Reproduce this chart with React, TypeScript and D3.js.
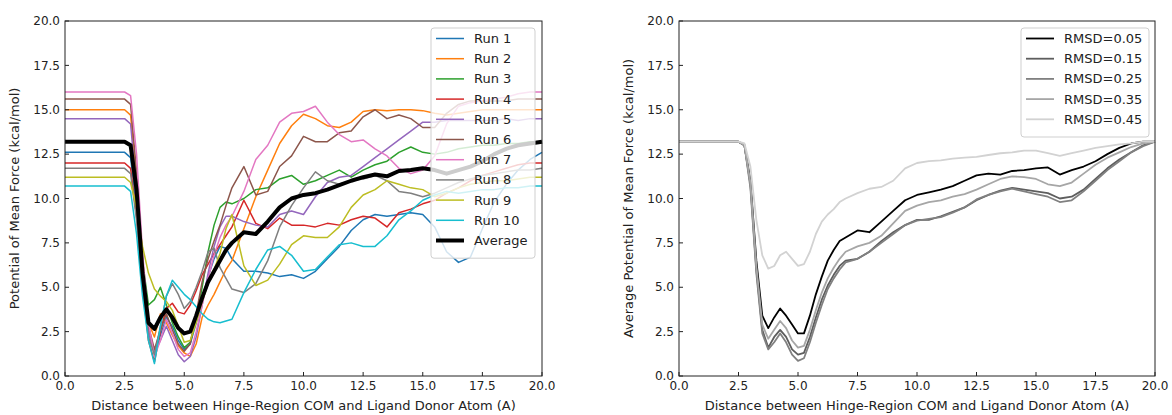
import React from 'react';
import * as d3 from 'd3';

// shared x grid (distance, A)
const xs = [0, 2.5, 2.75, 3, 3.25, 3.5, 3.75, 4, 4.25, 4.5, 4.75, 5, 5.25, 5.5, 5.75, 6, 6.25, 6.5, 6.75,
  7, 7.5, 8, 8.5, 9, 9.5, 10, 10.5, 11, 11.5, 12, 12.5, 13, 13.5, 14, 14.5, 15, 15.5, 16, 16.5, 17, 17.5,
  18, 18.5, 19, 19.5, 20];

// left panel: individual runs
const run1 = [12.6, 12.6, 12.3, 9.5, 5.5, 2.5, 1.3, 2.3, 3.3, 2.8, 2.0, 1.5, 1.8, 3.0, 4.3, 5.6, 6.6, 7.3, 7.2, 6.6,
  5.9, 5.9, 5.8, 5.6, 5.7, 5.5, 5.9, 6.6, 7.3, 8.2, 8.8, 9.1, 9.0, 9.1, 9.2, 9.1, 8.4, 7.0, 6.4, 6.7, 8.3, 9.8, 10.8, 11.6, 12.2, 12.6];
const run2 = [15.0, 15.0, 14.7, 11.0, 6.5, 3.0, 2.2, 3.5, 3.0, 2.3, 1.7, 1.3, 1.1, 1.8, 3.3, 4.0, 4.6, 5.3, 6.0, 6.5,
  8.3, 10.1, 11.6, 13.1, 14.1, 14.75, 14.5, 14.1, 14.0, 14.3, 14.9, 15.0, 14.95, 15.0, 15.0, 14.95, 14.8, 14.7, 14.8, 14.9, 15.0, 15.0, 15.0, 15.0, 15.0, 15.0];
const run3 = [13.2, 13.2, 12.9, 10.0, 6.5, 4.0, 4.3, 5.0, 4.0, 3.0, 2.2, 1.6, 1.9, 3.2, 5.0, 7.0, 8.5, 9.5, 9.8, 9.7,
  10.0, 10.5, 10.6, 11.1, 11.3, 10.8, 11.0, 11.3, 11.6, 11.2, 11.6, 11.9, 12.1, 12.6, 12.9, 12.6, 12.5, 12.6, 12.8, 12.9, 13.0, 13.0, 13.1, 13.1, 13.2, 13.2];
const run4 = [12.0, 12.0, 11.7, 9.0, 5.0, 2.0, 0.8, 2.5, 3.8, 4.1, 3.6, 3.5, 4.0, 4.8, 5.7, 6.3, 6.9, 7.4, 7.9, 8.4,
  9.9, 8.6, 8.3, 8.9, 8.5, 8.5, 8.4, 8.6, 8.5, 8.8, 9.0, 8.9, 8.4, 9.2, 9.4, 9.7, 9.9, 10.3, 10.6, 11.0, 11.3, 11.5, 11.7, 11.9, 12.0, 12.0];
const run5 = [14.5, 14.5, 14.2, 10.5, 6.0, 2.5, 1.3, 2.0, 2.8, 2.0, 1.2, 0.8, 1.1, 2.2, 4.0, 5.8, 7.3, 8.4, 9.0, 9.0,
  8.7, 8.5, 8.4, 9.1, 9.3, 9.1, 10.1, 10.9, 11.2, 11.3, 11.8, 12.3, 12.8, 13.3, 13.8, 14.3, 14.3, 14.4, 14.4, 14.4, 14.4, 14.4, 14.5, 14.4, 14.5, 14.5];
const run6 = [15.6, 15.6, 15.3, 11.5, 6.5, 2.8, 1.5, 2.6, 3.5, 2.6, 1.8, 1.4, 1.8, 3.5, 5.3, 6.6, 7.6, 8.5, 9.6, 10.6,
  11.8, 10.2, 10.4, 11.8, 12.4, 13.5, 13.2, 13.2, 13.7, 13.8, 14.6, 15.0, 14.5, 14.7, 14.5, 14.0, 14.0, 14.8, 15.3, 15.5, 15.5, 15.5, 15.5, 15.6, 15.6, 15.6];
const run7 = [16.0, 16.0, 15.8, 12.5, 7.0, 3.0, 1.1, 2.0, 3.2, 2.4, 1.5, 1.1, 1.3, 2.5, 4.0, 5.5, 6.8, 7.8, 8.5, 9.0,
  10.4, 12.2, 13.0, 14.3, 14.8, 14.9, 15.2, 14.3, 13.6, 13.2, 13.3, 12.8, 12.4, 11.7, 11.4, 11.6, 12.4, 14.2, 15.2, 15.4, 15.5, 15.6, 15.7, 15.9, 16.0, 16.0];
const run8 = [11.7, 11.7, 11.4, 8.8, 5.0, 2.2, 1.2, 2.8, 4.5, 5.2, 4.6, 3.8, 4.2, 5.0, 5.9, 7.0, 7.2, 6.1, 5.5, 4.9,
  4.7, 5.2, 6.5, 8.4, 9.6, 10.6, 11.5, 11.0, 10.8, 11.0, 11.1, 11.3, 11.0, 10.4, 10.3, 10.1, 10.3, 10.6, 10.9, 11.1, 11.3, 11.4, 11.5, 11.6, 11.6, 11.7];
const run9 = [11.2, 11.2, 10.9, 9.5, 7.3, 5.8, 4.9, 4.5, 4.2, 3.7, 2.8, 1.9, 2.0, 3.0, 4.2, 5.2, 6.0, 6.9, 8.3, 9.1,
  6.2, 5.1, 5.4, 6.3, 7.4, 7.9, 7.8, 7.8, 8.4, 9.5, 10.2, 10.5, 11.0, 10.8, 10.6, 10.5, 10.1, 10.3, 10.6, 10.8, 10.9, 11.0, 11.0, 11.1, 11.2, 11.2];
const run10 = [10.7, 10.7, 10.4, 8.0, 4.5, 2.0, 0.7, 2.8, 4.5, 5.4, 5.0, 4.6, 4.3, 3.9, 3.5, 3.2, 3.05, 3.0, 3.1, 3.2,
  4.7, 6.0, 7.1, 7.3, 6.8, 5.9, 6.0, 6.7, 7.4, 7.5, 7.3, 7.3, 7.9, 8.8, 9.3, 9.9, 10.2, 10.4, 10.3, 10.4, 10.5, 10.5, 10.6, 10.6, 10.7, 10.7];
const average = [13.2, 13.2, 13.0, 10.5, 5.8, 3.0, 2.65, 3.3, 3.75, 3.3, 2.7, 2.4, 2.5, 3.4, 4.4, 5.3, 5.9, 6.5, 7.1, 7.5,
  8.1, 8.0, 8.7, 9.5, 10.0, 10.2, 10.3, 10.5, 10.75, 11.0, 11.2, 11.35, 11.25, 11.55, 11.6, 11.7, 11.6, 11.4, 11.6, 11.8, 12.1, 12.5, 12.8, 13.0, 13.1, 13.2];

const runNames = ['Run 1', 'Run 2', 'Run 3', 'Run 4', 'Run 5', 'Run 6', 'Run 7', 'Run 8', 'Run 9', 'Run 10'];
const runColors = ['#1f77b4', '#ff7f0e', '#2ca02c', '#d62728', '#9467bd', '#8c564b', '#e377c2', '#7f7f7f', '#bcbd22', '#17becf'];

// right panel: averages per RMSD cutoff
const rmsd05 = [13.2, 13.2, 13.0, 11.0, 6.5, 3.4, 2.7, 3.3, 3.8, 3.4, 2.9, 2.4, 2.4, 3.4, 4.6, 5.6, 6.5, 7.1, 7.6, 7.8,
  8.2, 8.1, 8.7, 9.3, 9.9, 10.2, 10.35, 10.5, 10.7, 11.0, 11.3, 11.4, 11.35, 11.55, 11.6, 11.7, 11.75, 11.35, 11.6, 11.8, 12.1, 12.5, 12.85, 13.1, 13.2, 13.2];
const rmsd15 = [13.2, 13.2, 13.0, 10.8, 6.0, 2.6, 1.6, 2.2, 2.6, 2.2, 1.5, 1.2, 1.3, 2.2, 3.3, 4.3, 5.1, 5.7, 6.2, 6.5,
  6.6, 7.0, 7.6, 8.1, 8.5, 8.8, 8.8, 9.0, 9.25, 9.5, 9.9, 10.2, 10.45, 10.6, 10.5, 10.4, 10.3, 10.0, 10.1, 10.5, 11.1, 11.7, 12.2, 12.6, 13.0, 13.2];
const rmsd25 = [13.2, 13.2, 13.0, 10.6, 5.8, 2.4, 1.5, 1.9, 2.4, 1.9, 1.2, 0.85, 1.0, 1.9, 3.0, 4.0, 4.9, 5.5, 6.0, 6.4,
  6.6, 7.0, 7.5, 8.0, 8.5, 8.75, 8.85, 8.95, 9.2, 9.5, 9.95, 10.2, 10.4, 10.55, 10.4, 10.25, 10.1, 9.8, 9.9, 10.4, 11.0, 11.6, 12.1, 12.6, 12.95, 13.2];
const rmsd35 = [13.2, 13.2, 13.0, 10.9, 6.2, 2.9, 2.1, 2.6, 3.1, 2.7, 2.0, 1.6, 1.7, 2.6, 3.7, 4.7, 5.5, 6.1, 6.6, 7.0,
  7.3, 7.5, 7.9, 8.6, 9.3, 9.6, 9.8, 9.9, 10.1, 10.25, 10.5, 10.8, 11.1, 11.25, 11.2, 11.1, 10.8, 10.7, 10.9, 11.4, 11.9, 12.3, 12.6, 12.9, 13.1, 13.2];
const rmsd45 = [13.2, 13.2, 13.1, 11.8, 8.8, 6.8, 6.05, 6.2, 6.8, 7.0, 6.6, 6.2, 6.3, 7.0, 8.0, 8.7, 9.1, 9.4, 9.8, 10.0,
  10.3, 10.55, 10.65, 11.0, 11.7, 12.0, 12.1, 12.15, 12.25, 12.3, 12.35, 12.45, 12.55, 12.6, 12.7, 12.7, 12.55, 12.4, 12.55, 12.7, 12.85, 12.95, 13.05, 13.1, 13.2, 13.2];

const rmsdNames = ['RMSD=0.05', 'RMSD=0.15', 'RMSD=0.25', 'RMSD=0.35', 'RMSD=0.45'];
const rmsdColors = ['#000000', '#5e5e5e', '#808080', '#a6a6a6', '#d2d2d2'];

const ticks = [0, 2.5, 5, 7.5, 10, 12.5, 15, 17.5, 20];

const FONT = '"DejaVu Sans", sans-serif';
const TOP = 21;
const BOTTOM = 376;

type Series = { name: string; values: number[]; color: string; width: number };

function Panel({ left, right, series, ylabel, legendX, legendW }: {
  left: number; right: number; series: Series[]; ylabel: string; legendX: number; legendW: number;
}) {
  const x = d3.scaleLinear().domain([0, 20]).range([left, right]);
  const y = d3.scaleLinear().domain([0, 20]).range([BOTTOM, TOP]);
  const line = d3.line<number>().x((_, i) => x(xs[i])).y(d => y(d));
  const fmt = d3.format('.1f');

  const rowH = 20.2;
  const legendY = TOP + 7;
  const legendH = series.length * rowH + 8;

  return (
    <g>
      {series.map(s => (
        <path key={s.name} d={line(s.values) || ''} fill="none" stroke={s.color}
          strokeWidth={s.width} strokeLinejoin="round" />
      ))}

      {/* frame */}
      <rect x={left} y={TOP} width={right - left} height={BOTTOM - TOP} fill="none" stroke="#222" strokeWidth={1} />

      {/* ticks, pointing in */}
      {ticks.map(t => (
        <g key={'x' + t}>
          <line x1={x(t)} x2={x(t)} y1={BOTTOM} y2={BOTTOM - 4} stroke="#222" />
          <text x={x(t)} y={BOTTOM + 13.5} textAnchor="middle" fontSize={12} fontFamily={FONT} fill="#222">{fmt(t)}</text>
        </g>
      ))}
      {ticks.map(t => (
        <g key={'y' + t}>
          <line x1={left} x2={left + 4} y1={y(t)} y2={y(t)} stroke="#222" />
          <text x={left - 5} y={y(t)} dy="0.35em" textAnchor="end" fontSize={12} fontFamily={FONT} fill="#222">{fmt(t)}</text>
        </g>
      ))}

      <text x={(left + right) / 2} y={410} textAnchor="middle" fontSize={13} fontFamily={FONT} fill="#222">
        Distance between Hinge-Region COM and Ligand Donor Atom (A)
      </text>
      <text transform={`translate(${left - 46},${(TOP + BOTTOM) / 2}) rotate(-90)`} textAnchor="middle"
        fontSize={13} fontFamily={FONT} fill="#222">{ylabel}</text>

      {/* legend */}
      <rect x={legendX} y={legendY} width={legendW} height={legendH} rx={3}
        fill="#fff" fillOpacity={0.8} stroke="#cfcfcf" strokeWidth={1} />
      {series.map((s, i) => {
        const cy = legendY + 10.5 + i * rowH;
        return (
          <g key={'l' + s.name}>
            <line x1={legendX + 5} x2={legendX + 33} y1={cy} y2={cy} stroke={s.color} strokeWidth={s.width} />
            <text x={legendX + 43} y={cy} dy="0.35em" fontSize={13} fontFamily={FONT} fill="#222">{s.name}</text>
          </g>
        );
      })}
    </g>
  );
}

export default function App() {
  const runs = [run1, run2, run3, run4, run5, run6, run7, run8, run9, run10];
  const leftSeries: Series[] = runs.map((v, i) => ({ name: runNames[i], values: v, color: runColors[i], width: 1.5 }));
  leftSeries.push({ name: 'Average', values: average, color: '#000000', width: 4 });

  const rm = [rmsd05, rmsd15, rmsd25, rmsd35, rmsd45];
  const rightSeries: Series[] = rm.map((v, i) => ({ name: rmsdNames[i], values: v, color: rmsdColors[i], width: 1.8 }));

  return (
    <svg width={1172} height={415} style={{ position: 'absolute', left: 0, top: 0, background: '#fff' }}>
      <Panel left={65} right={542} series={leftSeries} ylabel="Potential of Mean Force (kcal/mol)"
        legendX={431} legendW={104} />
      <Panel left={679} right={1155} series={rightSeries} ylabel="Average Potential of Mean Force (kcal/mol)"
        legendX={1021} legendW={128} />
    </svg>
  );
}
